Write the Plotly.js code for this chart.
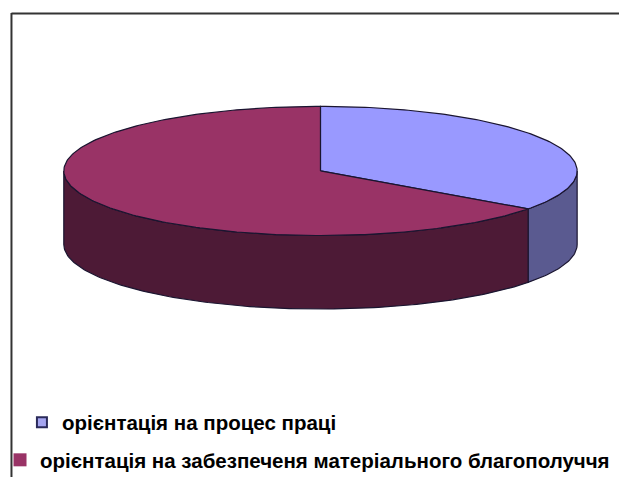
<!DOCTYPE html>
<html>
<head>
<meta charset="utf-8">
<script src="https://cdn.plot.ly/plotly-3.0.1.min.js"></script>
<style>
html,body{margin:0;padding:0;background:#fff;}
#chart{width:619px;height:480px;}
</style>
</head>
<body>
<div id="chart"></div>
<script>
// ---- data ----
const labels = ["орієнтація на процес праці", "орієнтація на забезпеченя матеріального благополуччя"];
const shares = [35, 65];

// ---- styles / geometry (not data) ----
const topColors  = ["#9999FF", "#993366"];
const sideColors = ["#5A5A90", "#4D1A36"];
const edgeColor = "#1A1530";
const CX = 319.5, CY = 172, RX = 257.5, RY = 65, DEPTH = 74;

function pt(deg, dy) {
  const r = deg * Math.PI / 180;
  return [CX + RX * Math.sin(r), CY - RY * Math.cos(r) + (dy || 0)];
}
function arc(a, b, dy) {
  const xs = [], ys = [];
  const n = Math.max(2, Math.ceil(Math.abs(b - a)));
  for (let i = 0; i <= n; i++) {
    const p = pt(a + (b - a) * i / n, dy);
    xs.push(p[0]); ys.push(p[1]);
  }
  return [xs, ys];
}

const total = shares.reduce((s, v) => s + v, 0);
const traces = [];
const tops = [];
let cum = 0;
shares.forEach((v, i) => {
  const a = cum / total * 360, b = (cum + v) / total * 360;
  cum += v;
  // visible side (front half: 90..270)
  const sa = Math.max(a, 90), sb = Math.min(b, 270);
  if (sb > sa) {
    const up = arc(sa, sb, 0), dn = arc(sb, sa, DEPTH);
    traces.push({
      type: "scatter", mode: "lines", fill: "toself",
      x: up[0].concat(dn[0]).concat([up[0][0]]),
      y: up[1].concat(dn[1]).concat([up[1][0]]),
      fillcolor: sideColors[i], line: {color: edgeColor, width: 1.2},
      hoverinfo: "skip", showlegend: false
    });
  }
  const t = arc(a, b, 0);
  tops.push({
    type: "scatter", mode: "lines", fill: "toself",
    x: [CX].concat(t[0]).concat([CX]),
    y: [CY].concat(t[1]).concat([CY]),
    fillcolor: topColors[i], line: {color: edgeColor, width: 1.2},
    name: labels[i], text: labels[i] + ": " + v + "%", hoverinfo: "text",
    showlegend: false
  });
});
traces.push(...tops);

// legend entries
const legMarkers = [
  {symbol: "square", size: 10, color: "#A5A5F0", line: {color: "#2A2A5A", width: 2}},
  {symbol: "square", size: 13, color: topColors[1], line: {width: 0}}
];
labels.forEach((lab, i) => {
  traces.push({
    type: "scatter", mode: "markers", x: [null], y: [null],
    name: lab, marker: legMarkers[i], showlegend: true,
    legend: i === 0 ? "legend" : "legend2"
  });
});

const legFont = {family: "Liberation Sans, Arial, sans-serif", size: 20.5, color: "#000", weight: "bold"};
const layout = {
  width: 619, height: 480,
  margin: {l: 0, r: 0, t: 0, b: 0},
  paper_bgcolor: "#fff", plot_bgcolor: "#fff",
  xaxis: {range: [0, 619], visible: false, fixedrange: true},
  yaxis: {range: [480, 0], visible: false, fixedrange: true},
  showlegend: true,
  legend: {x: 20 / 619, xanchor: "left", y: 1 - 425 / 480, yanchor: "middle",
           font: legFont, bgcolor: "rgba(0,0,0,0)", borderwidth: 0},
  legend2: {x: -2 / 619, xanchor: "left", y: 1 - 463 / 480, yanchor: "middle",
            font: legFont, bgcolor: "rgba(0,0,0,0)", borderwidth: 0},
  shapes: [
    {type: "line", xref: "paper", yref: "paper", x0: 9.5 / 619, x1: 9.5 / 619, y0: 1 - 13 / 480, y1: 0,
     line: {color: "#333", width: 2}},
    {type: "line", xref: "paper", yref: "paper", x0: 9.5 / 619, x1: 1, y0: 1 - 13.5 / 480, y1: 1 - 13.5 / 480,
     line: {color: "#333", width: 2}}
  ]
};

Plotly.newPlot("chart", traces, layout, {displayModeBar: false, staticPlot: true});
</script>
</body>
</html>
